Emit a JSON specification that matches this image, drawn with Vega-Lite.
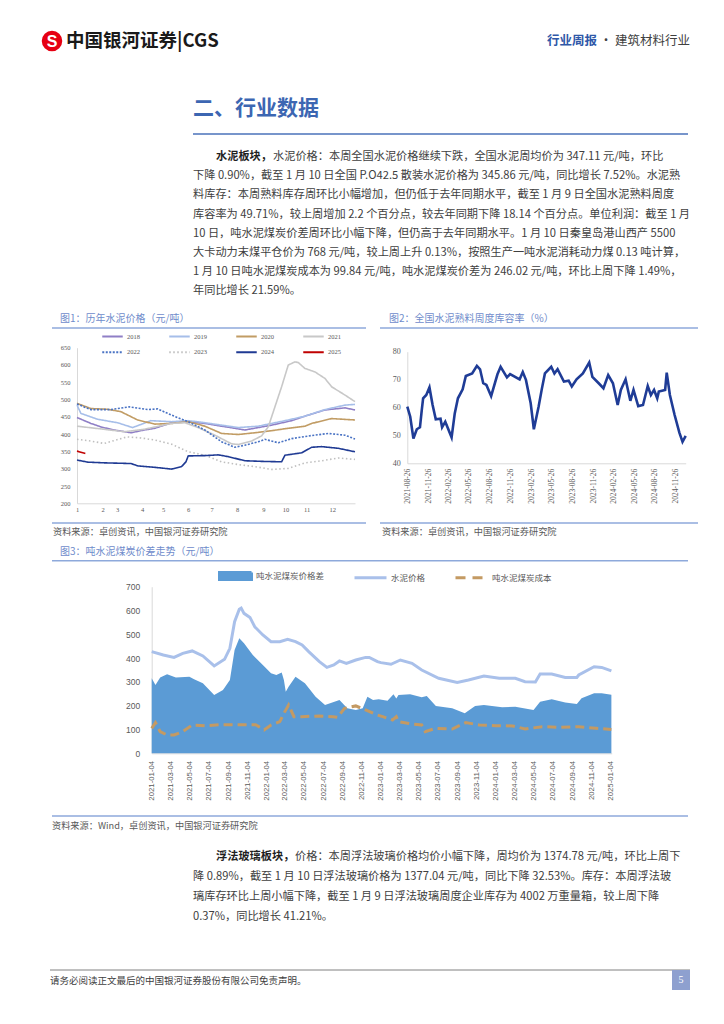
{
  "$schema": "https://vega.github.io/schema/vega-lite/v6.json",
  "width": 724,
  "height": 1024,
  "autosize": {"type": "none"},
  "padding": 0,
  "background": "white",
  "config": {
    "view": {"stroke": null},
    "font": "Noto Sans CJK SC",
    "text": {"font": "Noto Sans CJK SC"}
  },
  "data": {"values": [{"k": 1}]},
  "datasets": {
    "para1": [
      {"line": 0, "b": 1, "t": "水泥板块，"},
      {"line": 0, "b": 2, "t": "水泥价格：本周全国水泥价格继续下跌，全国水泥周均价为 347.11 元/吨，环比"},
      {"line": 1, "b": 0, "t": "下降 0.90%，截至 1 月 10 日全国 P.O42.5 散装水泥价格为 345.86 元/吨，同比增长 7.52%。水泥熟"},
      {"line": 2, "b": 0, "t": "料库存：本周熟料库存周环比小幅增加，但仍低于去年同期水平，截至 1 月 9 日全国水泥熟料周度"},
      {"line": 3, "b": 0, "t": "库容率为 49.71%，较上周增加 2.2 个百分点，较去年同期下降 18.14 个百分点。单位利润：截至 1 月"},
      {"line": 4, "b": 0, "t": "10 日，吨水泥煤炭价差周环比小幅下降，但仍高于去年同期水平。1 月 10 日秦皇岛港山西产 5500"},
      {"line": 5, "b": 0, "t": "大卡动力末煤平仓价为 768 元/吨，较上周上升 0.13%，按照生产一吨水泥消耗动力煤 0.13 吨计算，"},
      {"line": 6, "b": 0, "t": "1 月 10 日吨水泥煤炭成本为 99.84 元/吨，吨水泥煤炭价差为 246.02 元/吨，环比上周下降 1.49%，"},
      {"line": 7, "b": 0, "t": "年同比增长 21.59%。"}
    ],
    "para2": [
      {"line": 0, "b": 1, "t": "浮法玻璃板块，"},
      {"line": 0, "b": 2, "t": "价格：本周浮法玻璃价格均价小幅下降，周均价为 1374.78 元/吨，环比上周下"},
      {"line": 1, "b": 0, "t": "降 0.89%，截至 1 月 10 日浮法玻璃价格为 1377.04 元/吨，同比下降 32.53%。库存：本周浮法玻"},
      {"line": 2, "b": 0, "t": "璃库存环比上周小幅下降，截至 1 月 9 日浮法玻璃周度企业库存为 4002 万重量箱，较上周下降"},
      {"line": 3, "b": 0, "t": "0.37%，同比增长 41.21%。"}
    ],
    "c1": [
      {"yr": "2018", "w": 0, "v": 448}, {"yr": "2018", "w": 2.5, "v": 431}, {"yr": "2018", "w": 4.5, "v": 420}, {"yr": "2018", "w": 6.7, "v": 412}, {"yr": "2018", "w": 9.7, "v": 404}, {"yr": "2018", "w": 12.1, "v": 412}, {"yr": "2018", "w": 14, "v": 417}, {"yr": "2018", "w": 17, "v": 433}, {"yr": "2018", "w": 20, "v": 436}, {"yr": "2018", "w": 23, "v": 431}, {"yr": "2018", "w": 26, "v": 423}, {"yr": "2018", "w": 28, "v": 418}, {"yr": "2018", "w": 30.2, "v": 412}, {"yr": "2018", "w": 32.6, "v": 419}, {"yr": "2018", "w": 35, "v": 426}, {"yr": "2018", "w": 38.6, "v": 439}, {"yr": "2018", "w": 41, "v": 452}, {"yr": "2018", "w": 44.6, "v": 470}, {"yr": "2018", "w": 48.2, "v": 476}, {"yr": "2018", "w": 50, "v": 470},
      {"yr": "2019", "w": 0, "v": 484}, {"yr": "2019", "w": 0.7, "v": 460}, {"yr": "2019", "w": 3.7, "v": 443}, {"yr": "2019", "w": 7.3, "v": 433}, {"yr": "2019", "w": 10, "v": 419}, {"yr": "2019", "w": 13.3, "v": 439}, {"yr": "2019", "w": 17, "v": 436}, {"yr": "2019", "w": 20, "v": 439}, {"yr": "2019", "w": 23, "v": 433}, {"yr": "2019", "w": 26, "v": 426}, {"yr": "2019", "w": 29, "v": 419}, {"yr": "2019", "w": 32.6, "v": 423}, {"yr": "2019", "w": 35, "v": 431}, {"yr": "2019", "w": 38, "v": 441}, {"yr": "2019", "w": 41, "v": 452}, {"yr": "2019", "w": 44.6, "v": 471}, {"yr": "2019", "w": 48.2, "v": 484}, {"yr": "2019", "w": 50, "v": 486},
      {"yr": "2020", "w": 0, "v": 489}, {"yr": "2020", "w": 2.5, "v": 474}, {"yr": "2020", "w": 5.5, "v": 472}, {"yr": "2020", "w": 7.9, "v": 465}, {"yr": "2020", "w": 10.9, "v": 441}, {"yr": "2020", "w": 14, "v": 429}, {"yr": "2020", "w": 17, "v": 431}, {"yr": "2020", "w": 20, "v": 436}, {"yr": "2020", "w": 23, "v": 423}, {"yr": "2020", "w": 26, "v": 402}, {"yr": "2020", "w": 29, "v": 399}, {"yr": "2020", "w": 32, "v": 404}, {"yr": "2020", "w": 35, "v": 410}, {"yr": "2020", "w": 38, "v": 417}, {"yr": "2020", "w": 41, "v": 423}, {"yr": "2020", "w": 42.2, "v": 431}, {"yr": "2020", "w": 45.8, "v": 445}, {"yr": "2020", "w": 50, "v": 441},
      {"yr": "2021", "w": 0, "v": 423}, {"yr": "2021", "w": 4.9, "v": 414}, {"yr": "2021", "w": 8.5, "v": 407}, {"yr": "2021", "w": 12.1, "v": 414}, {"yr": "2021", "w": 17, "v": 431}, {"yr": "2021", "w": 19.4, "v": 433}, {"yr": "2021", "w": 21.8, "v": 419}, {"yr": "2021", "w": 24.8, "v": 397}, {"yr": "2021", "w": 27.8, "v": 372}, {"yr": "2021", "w": 29, "v": 370}, {"yr": "2021", "w": 31.4, "v": 380}, {"yr": "2021", "w": 33.2, "v": 395}, {"yr": "2021", "w": 34.4, "v": 421}, {"yr": "2021", "w": 35.6, "v": 479}, {"yr": "2021", "w": 36.8, "v": 537}, {"yr": "2021", "w": 38, "v": 600}, {"yr": "2021", "w": 39.2, "v": 609}, {"yr": "2021", "w": 39.8, "v": 607}, {"yr": "2021", "w": 41, "v": 590}, {"yr": "2021", "w": 42.8, "v": 580}, {"yr": "2021", "w": 44.6, "v": 561}, {"yr": "2021", "w": 45.8, "v": 537}, {"yr": "2021", "w": 48.2, "v": 513}, {"yr": "2021", "w": 50, "v": 494},
      {"yr": "2022", "w": 0, "v": 487}, {"yr": "2022", "w": 2.5, "v": 471}, {"yr": "2022", "w": 6.1, "v": 471}, {"yr": "2022", "w": 9.4, "v": 479}, {"yr": "2022", "w": 12.7, "v": 471}, {"yr": "2022", "w": 14.5, "v": 473}, {"yr": "2022", "w": 17, "v": 455}, {"yr": "2022", "w": 20, "v": 436}, {"yr": "2022", "w": 23, "v": 412}, {"yr": "2022", "w": 26, "v": 378}, {"yr": "2022", "w": 28.4, "v": 362}, {"yr": "2022", "w": 30.2, "v": 368}, {"yr": "2022", "w": 32.6, "v": 378}, {"yr": "2022", "w": 33.8, "v": 385}, {"yr": "2022", "w": 36.2, "v": 375}, {"yr": "2022", "w": 38.6, "v": 387}, {"yr": "2022", "w": 42.2, "v": 396}, {"yr": "2022", "w": 45.2, "v": 402}, {"yr": "2022", "w": 48.2, "v": 397}, {"yr": "2022", "w": 50, "v": 386},
      {"yr": "2023", "w": 0, "v": 385}, {"yr": "2023", "w": 2.5, "v": 380}, {"yr": "2023", "w": 4.9, "v": 373}, {"yr": "2023", "w": 7, "v": 383}, {"yr": "2023", "w": 9, "v": 392}, {"yr": "2023", "w": 11.5, "v": 389}, {"yr": "2023", "w": 14, "v": 383}, {"yr": "2023", "w": 17, "v": 371}, {"yr": "2023", "w": 20, "v": 349}, {"yr": "2023", "w": 23, "v": 339}, {"yr": "2023", "w": 26, "v": 320}, {"yr": "2023", "w": 29, "v": 312}, {"yr": "2023", "w": 32, "v": 306}, {"yr": "2023", "w": 35, "v": 298}, {"yr": "2023", "w": 38, "v": 301}, {"yr": "2023", "w": 41, "v": 317}, {"yr": "2023", "w": 44, "v": 323}, {"yr": "2023", "w": 47, "v": 331}, {"yr": "2023", "w": 50, "v": 327},
      {"yr": "2024", "w": 0, "v": 325}, {"yr": "2024", "w": 2, "v": 319}, {"yr": "2024", "w": 4.9, "v": 317}, {"yr": "2024", "w": 9.7, "v": 315}, {"yr": "2024", "w": 11, "v": 308}, {"yr": "2024", "w": 14, "v": 304}, {"yr": "2024", "w": 17, "v": 299}, {"yr": "2024", "w": 18.8, "v": 306}, {"yr": "2024", "w": 19.6, "v": 320}, {"yr": "2024", "w": 20, "v": 337}, {"yr": "2024", "w": 23, "v": 338}, {"yr": "2024", "w": 25.4, "v": 340}, {"yr": "2024", "w": 27.2, "v": 335}, {"yr": "2024", "w": 30.2, "v": 323}, {"yr": "2024", "w": 33.8, "v": 321}, {"yr": "2024", "w": 36.8, "v": 320}, {"yr": "2024", "w": 37.4, "v": 339}, {"yr": "2024", "w": 40.4, "v": 346}, {"yr": "2024", "w": 42.2, "v": 362}, {"yr": "2024", "w": 44, "v": 364}, {"yr": "2024", "w": 47, "v": 359}, {"yr": "2024", "w": 50, "v": 349},
      {"yr": "2025", "w": 0, "v": 351}, {"yr": "2025", "w": 1.5, "v": 344}
    ],
    "c2": [
      {"d": "2021/08/26", "v": 60.3}, {"d": "2021/09/08", "v": 56.7}, {"d": "2021/09/22", "v": 48.9}, {"d": "2021/10/07", "v": 52.2}, {"d": "2021/10/21", "v": 52.9}, {"d": "2021/10/29", "v": 59.1}, {"d": "2021/11/04", "v": 63.3}, {"d": "2021/11/18", "v": 64.5}, {"d": "2021/12/02", "v": 67.2}, {"d": "2021/12/16", "v": 60.9}, {"d": "2021/12/30", "v": 55.8}, {"d": "2022/01/20", "v": 56.0}, {"d": "2022/01/27", "v": 52.9}, {"d": "2022/02/10", "v": 54.9}, {"d": "2022/03/10", "v": 49.3}, {"d": "2022/03/24", "v": 57.9}, {"d": "2022/04/07", "v": 63.3}, {"d": "2022/04/28", "v": 66.5}, {"d": "2022/05/12", "v": 71.3}, {"d": "2022/06/09", "v": 72.2}, {"d": "2022/06/30", "v": 74.9}, {"d": "2022/07/14", "v": 73.7}, {"d": "2022/07/28", "v": 68.7}, {"d": "2022/08/11", "v": 68.1}, {"d": "2022/09/01", "v": 64.1}, {"d": "2022/09/29", "v": 71.9}, {"d": "2022/10/13", "v": 74.6}, {"d": "2022/11/10", "v": 70.8}, {"d": "2022/11/24", "v": 72.0}, {"d": "2023/01/05", "v": 70.1}, {"d": "2023/01/19", "v": 72.7}, {"d": "2023/02/02", "v": 69.9}, {"d": "2023/02/23", "v": 61.5}, {"d": "2023/03/09", "v": 52.2}, {"d": "2023/03/30", "v": 60.3}, {"d": "2023/04/13", "v": 66.5}, {"d": "2023/04/27", "v": 72.2}, {"d": "2023/05/25", "v": 74.6}, {"d": "2023/06/08", "v": 72.2}, {"d": "2023/06/22", "v": 73.7}, {"d": "2023/07/20", "v": 69.3}, {"d": "2023/08/10", "v": 69.6}, {"d": "2023/08/24", "v": 67.5}, {"d": "2023/09/14", "v": 70.1}, {"d": "2023/10/12", "v": 72.2}, {"d": "2023/11/09", "v": 76.1}, {"d": "2023/11/23", "v": 71.0}, {"d": "2023/12/21", "v": 68.7}, {"d": "2024/01/11", "v": 66.9}, {"d": "2024/02/01", "v": 71.6}, {"d": "2024/02/22", "v": 68.7}, {"d": "2024/03/14", "v": 60.9}, {"d": "2024/03/28", "v": 66.3}, {"d": "2024/04/18", "v": 70.1}, {"d": "2024/05/09", "v": 62.4}, {"d": "2024/05/23", "v": 66.3}, {"d": "2024/06/13", "v": 60.5}, {"d": "2024/07/04", "v": 60.9}, {"d": "2024/07/25", "v": 67.7}, {"d": "2024/08/08", "v": 64.5}, {"d": "2024/08/22", "v": 66.3}, {"d": "2024/09/05", "v": 63.3}, {"d": "2024/09/12", "v": 65.7}, {"d": "2024/10/10", "v": 66.3}, {"d": "2024/10/17", "v": 72.5}, {"d": "2024/10/31", "v": 64.5}, {"d": "2024/11/21", "v": 57.3}, {"d": "2024/12/12", "v": 51.0}, {"d": "2024/12/26", "v": 47.7}, {"d": "2025/01/09", "v": 49.8}
    ],
    "c3": [
      {"s": "水泥价格", "d": "2021/01/04", "v": 427}, {"s": "水泥价格", "d": "2021/02/10", "v": 413}, {"s": "水泥价格", "d": "2021/03/16", "v": 403}, {"s": "水泥价格", "d": "2021/04/13", "v": 420}, {"s": "水泥价格", "d": "2021/05/13", "v": 430}, {"s": "水泥价格", "d": "2021/06/16", "v": 409}, {"s": "水泥价格", "d": "2021/07/22", "v": 367}, {"s": "水泥价格", "d": "2021/08/24", "v": 395}, {"s": "水泥价格", "d": "2021/09/10", "v": 441}, {"s": "水泥价格", "d": "2021/09/25", "v": 553}, {"s": "水泥价格", "d": "2021/10/10", "v": 605}, {"s": "水泥价格", "d": "2021/10/16", "v": 610}, {"s": "水泥价格", "d": "2021/10/25", "v": 588}, {"s": "水泥价格", "d": "2021/11/13", "v": 571}, {"s": "水泥价格", "d": "2021/11/28", "v": 532}, {"s": "水泥价格", "d": "2021/12/24", "v": 497}, {"s": "水泥价格", "d": "2022/01/19", "v": 469}, {"s": "水泥价格", "d": "2022/02/16", "v": 469}, {"s": "水泥价格", "d": "2022/03/13", "v": 479}, {"s": "水泥价格", "d": "2022/04/07", "v": 469}, {"s": "水泥价格", "d": "2022/04/28", "v": 455}, {"s": "水泥价格", "d": "2022/05/19", "v": 427}, {"s": "水泥价格", "d": "2022/06/22", "v": 385}, {"s": "水泥价格", "d": "2022/07/16", "v": 361}, {"s": "水泥价格", "d": "2022/08/07", "v": 371}, {"s": "水泥价格", "d": "2022/08/25", "v": 388}, {"s": "水泥价格", "d": "2022/09/16", "v": 378}, {"s": "水泥价格", "d": "2022/10/16", "v": 392}, {"s": "水泥价格", "d": "2022/11/16", "v": 403}, {"s": "水泥价格", "d": "2022/11/28", "v": 403}, {"s": "水泥价格", "d": "2022/12/24", "v": 385}, {"s": "水泥价格", "d": "2023/01/04", "v": 381}, {"s": "水泥价格", "d": "2023/02/05", "v": 374}, {"s": "水泥价格", "d": "2023/03/07", "v": 392}, {"s": "水泥价格", "d": "2023/04/13", "v": 378}, {"s": "水泥价格", "d": "2023/05/14", "v": 350}, {"s": "水泥价格", "d": "2023/07/07", "v": 315}, {"s": "水泥价格", "d": "2023/09/04", "v": 298}, {"s": "水泥价格", "d": "2023/10/10", "v": 308}, {"s": "水泥价格", "d": "2023/11/28", "v": 325}, {"s": "水泥价格", "d": "2024/01/16", "v": 315}, {"s": "水泥价格", "d": "2024/03/07", "v": 315}, {"s": "水泥价格", "d": "2024/04/07", "v": 301}, {"s": "水泥价格", "d": "2024/05/10", "v": 300}, {"s": "水泥价格", "d": "2024/05/25", "v": 333}, {"s": "水泥价格", "d": "2024/07/01", "v": 333}, {"s": "水泥价格", "d": "2024/08/13", "v": 319}, {"s": "水泥价格", "d": "2024/09/19", "v": 319}, {"s": "水泥价格", "d": "2024/09/25", "v": 329}, {"s": "水泥价格", "d": "2024/11/13", "v": 364}, {"s": "水泥价格", "d": "2024/12/07", "v": 361}, {"s": "水泥价格", "d": "2025/01/07", "v": 346},
      {"s": "吨水泥煤炭价格差", "d": "2021/01/04", "v": 315}, {"s": "吨水泥煤炭价格差", "d": "2021/01/16", "v": 287}, {"s": "吨水泥煤炭价格差", "d": "2021/01/31", "v": 319}, {"s": "吨水泥煤炭价格差", "d": "2021/02/22", "v": 332}, {"s": "吨水泥煤炭价格差", "d": "2021/03/22", "v": 319}, {"s": "吨水泥煤炭价格差", "d": "2021/05/04", "v": 322}, {"s": "吨水泥煤炭价格差", "d": "2021/05/19", "v": 311}, {"s": "吨水泥煤炭价格差", "d": "2021/06/16", "v": 294}, {"s": "吨水泥煤炭价格差", "d": "2021/07/22", "v": 245}, {"s": "吨水泥煤炭价格差", "d": "2021/08/19", "v": 266}, {"s": "吨水泥煤炭价格差", "d": "2021/09/10", "v": 308}, {"s": "吨水泥煤炭价格差", "d": "2021/09/25", "v": 434}, {"s": "吨水泥煤炭价格差", "d": "2021/10/10", "v": 483}, {"s": "吨水泥煤炭价格差", "d": "2021/10/25", "v": 462}, {"s": "吨水泥煤炭价格差", "d": "2021/11/22", "v": 413}, {"s": "吨水泥煤炭价格差", "d": "2021/12/24", "v": 371}, {"s": "吨水泥煤炭价格差", "d": "2022/01/19", "v": 336}, {"s": "吨水泥煤炭价格差", "d": "2022/02/05", "v": 329}, {"s": "吨水泥煤炭价格差", "d": "2022/02/22", "v": 340}, {"s": "吨水泥煤炭价格差", "d": "2022/03/01", "v": 308}, {"s": "吨水泥煤炭价格差", "d": "2022/03/07", "v": 259}, {"s": "吨水泥煤炭价格差", "d": "2022/03/16", "v": 280}, {"s": "吨水泥煤炭价格差", "d": "2022/04/07", "v": 322}, {"s": "吨水泥煤炭价格差", "d": "2022/05/07", "v": 294}, {"s": "吨水泥煤炭价格差", "d": "2022/06/10", "v": 238}, {"s": "吨水泥煤炭价格差", "d": "2022/07/10", "v": 203}, {"s": "吨水泥煤炭价格差", "d": "2022/08/25", "v": 224}, {"s": "吨水泥煤炭价格差", "d": "2022/09/19", "v": 189}, {"s": "吨水泥煤炭价格差", "d": "2022/10/16", "v": 182}, {"s": "吨水泥煤炭价格差", "d": "2022/11/07", "v": 189}, {"s": "吨水泥煤炭价格差", "d": "2022/11/22", "v": 238}, {"s": "吨水泥煤炭价格差", "d": "2022/12/10", "v": 224}, {"s": "吨水泥煤炭价格差", "d": "2022/12/28", "v": 227}, {"s": "吨水泥煤炭价格差", "d": "2023/01/25", "v": 221}, {"s": "吨水泥煤炭价格差", "d": "2023/02/13", "v": 248}, {"s": "吨水泥煤炭价格差", "d": "2023/02/22", "v": 230}, {"s": "吨水泥煤炭价格差", "d": "2023/03/01", "v": 245}, {"s": "吨水泥煤炭价格差", "d": "2023/04/07", "v": 248}, {"s": "吨水泥煤炭价格差", "d": "2023/05/14", "v": 235}, {"s": "吨水泥煤炭价格差", "d": "2023/05/30", "v": 241}, {"s": "吨水泥煤炭价格差", "d": "2023/06/28", "v": 199}, {"s": "吨水泥煤炭价格差", "d": "2023/08/19", "v": 189}, {"s": "吨水泥煤炭价格差", "d": "2023/09/28", "v": 168}, {"s": "吨水泥煤炭价格差", "d": "2023/10/31", "v": 199}, {"s": "吨水泥煤炭价格差", "d": "2023/11/28", "v": 203}, {"s": "吨水泥煤炭价格差", "d": "2024/01/25", "v": 193}, {"s": "吨水泥煤炭价格差", "d": "2024/03/07", "v": 196}, {"s": "吨水泥煤炭价格差", "d": "2024/05/04", "v": 182}, {"s": "吨水泥煤炭价格差", "d": "2024/05/25", "v": 217}, {"s": "吨水泥煤炭价格差", "d": "2024/07/01", "v": 227}, {"s": "吨水泥煤炭价格差", "d": "2024/08/13", "v": 213}, {"s": "吨水泥煤炭价格差", "d": "2024/09/19", "v": 207}, {"s": "吨水泥煤炭价格差", "d": "2024/10/04", "v": 231}, {"s": "吨水泥煤炭价格差", "d": "2024/11/13", "v": 252}, {"s": "吨水泥煤炭价格差", "d": "2024/12/07", "v": 252}, {"s": "吨水泥煤炭价格差", "d": "2025/01/07", "v": 246},
      {"s": "吨水泥煤炭成本", "d": "2021/01/04", "v": 105}, {"s": "吨水泥煤炭成本", "d": "2021/01/16", "v": 129}, {"s": "吨水泥煤炭成本", "d": "2021/01/31", "v": 91}, {"s": "吨水泥煤炭成本", "d": "2021/02/22", "v": 77}, {"s": "吨水泥煤炭成本", "d": "2021/03/16", "v": 77}, {"s": "吨水泥煤炭成本", "d": "2021/04/13", "v": 91}, {"s": "吨水泥煤炭成本", "d": "2021/05/13", "v": 119}, {"s": "吨水泥煤炭成本", "d": "2021/06/25", "v": 116}, {"s": "吨水泥煤炭成本", "d": "2021/08/07", "v": 120}, {"s": "吨水泥煤炭成本", "d": "2021/10/10", "v": 120}, {"s": "吨水泥煤炭成本", "d": "2021/12/01", "v": 120}, {"s": "吨水泥煤炭成本", "d": "2021/12/28", "v": 98}, {"s": "吨水泥煤炭成本", "d": "2022/01/19", "v": 119}, {"s": "吨水泥煤炭成本", "d": "2022/02/16", "v": 133}, {"s": "吨水泥煤炭成本", "d": "2022/03/01", "v": 168}, {"s": "吨水泥煤炭成本", "d": "2022/03/16", "v": 203}, {"s": "吨水泥煤炭成本", "d": "2022/04/02", "v": 154}, {"s": "吨水泥煤炭成本", "d": "2022/04/28", "v": 154}, {"s": "吨水泥煤炭成本", "d": "2022/06/22", "v": 157}, {"s": "吨水泥煤炭成本", "d": "2022/08/04", "v": 154}, {"s": "吨水泥煤炭成本", "d": "2022/08/19", "v": 151}, {"s": "吨水泥煤炭成本", "d": "2022/09/10", "v": 189}, {"s": "吨水泥煤炭成本", "d": "2022/10/16", "v": 199}, {"s": "吨水泥煤炭成本", "d": "2022/11/16", "v": 182}, {"s": "吨水泥煤炭成本", "d": "2022/12/24", "v": 161}, {"s": "吨水泥煤炭成本", "d": "2023/01/10", "v": 154}, {"s": "吨水泥煤炭成本", "d": "2023/02/10", "v": 140}, {"s": "吨水泥煤炭成本", "d": "2023/02/22", "v": 154}, {"s": "吨水泥煤炭成本", "d": "2023/03/01", "v": 133}, {"s": "吨水泥煤炭成本", "d": "2023/04/13", "v": 123}, {"s": "吨水泥煤炭成本", "d": "2023/05/14", "v": 119}, {"s": "吨水泥煤炭成本", "d": "2023/05/25", "v": 91}, {"s": "吨水泥煤炭成本", "d": "2023/06/28", "v": 105}, {"s": "吨水泥煤炭成本", "d": "2023/08/19", "v": 102}, {"s": "吨水泥煤炭成本", "d": "2023/10/01", "v": 129}, {"s": "吨水泥煤炭成本", "d": "2023/11/13", "v": 119}, {"s": "吨水泥煤炭成本", "d": "2024/01/04", "v": 116}, {"s": "吨水泥煤炭成本", "d": "2024/02/28", "v": 115}, {"s": "吨水泥煤炭成本", "d": "2024/04/07", "v": 102}, {"s": "吨水泥煤炭成本", "d": "2024/06/01", "v": 112}, {"s": "吨水泥煤炭成本", "d": "2024/07/22", "v": 109}, {"s": "吨水泥煤炭成本", "d": "2024/09/25", "v": 112}, {"s": "吨水泥煤炭成本", "d": "2024/11/19", "v": 105}, {"s": "吨水泥煤炭成本", "d": "2025/01/07", "v": 100}
    ]
  },
  "resolve": {
    "scale": {"x": "independent", "y": "independent", "color": "independent", "strokeDash": "independent"},
    "axis": {"x": "independent", "y": "independent"},
    "legend": {"color": "independent", "strokeDash": "independent"}
  },
  "layer": [
    {"mark": {"type": "point", "shape": "circle", "filled": true, "color": "#E60012", "size": 420, "opacity": 1}, "encoding": {"x": {"value": 52}, "y": {"value": 41}}},
    {"mark": {"type": "text", "text": "S", "fontWeight": "bold", "fontSize": 16, "color": "#FFFFFF", "font": "Liberation Sans"}, "encoding": {"x": {"value": 52}, "y": {"value": 42}}},
    {"mark": {"type": "text", "text": "中国银河证券|CGS", "align": "left", "fontSize": 18.5, "fontWeight": "bold", "color": "#1A1A1A"}, "encoding": {"x": {"value": 66}, "y": {"value": 41}}},
    {"mark": {"type": "text", "text": "行业周报", "align": "right", "fontSize": 12.5, "fontWeight": "bold", "color": "#2F58A8"}, "encoding": {"x": {"value": 597}, "y": {"value": 41}}},
    {"mark": {"type": "text", "text": "·", "align": "center", "fontSize": 12.5, "color": "#404040"}, "encoding": {"x": {"value": 606}, "y": {"value": 41}}},
    {"mark": {"type": "text", "text": "建筑材料行业", "align": "right", "fontSize": 12.5, "color": "#404040"}, "encoding": {"x": {"value": 690}, "y": {"value": 41}}},

    {"mark": {"type": "text", "text": "二、行业数据", "align": "left", "fontSize": 21, "fontWeight": "bold", "color": "#3C66B2"}, "encoding": {"x": {"value": 193}, "y": {"value": 109}}},
    {"mark": {"type": "rule", "color": "#4A72BA", "strokeWidth": 1.5}, "encoding": {"x": {"value": 193}, "x2": {"value": 688}, "y": {"value": 134}}},

    {"data": {"name": "para1"}, "transform": [{"filter": "datum.b == 0"}], "mark": {"type": "text", "align": "left", "fontSize": 11.2, "color": "#404040"},
     "encoding": {"x": {"value": 193}, "y": {"field": "line", "type": "quantitative", "scale": {"domain": [0, 7], "range": [157, 291.4]}, "axis": null}, "text": {"field": "t"}}},
    {"data": {"name": "para1"}, "transform": [{"filter": "datum.b == 1"}], "mark": {"type": "text", "align": "left", "fontSize": 11.2, "fontWeight": "bold", "color": "#1F1F1F"},
     "encoding": {"x": {"value": 216}, "y": {"field": "line", "type": "quantitative", "scale": {"domain": [0, 7], "range": [157, 291.4]}, "axis": null}, "text": {"field": "t"}}},
    {"data": {"name": "para1"}, "transform": [{"filter": "datum.b == 2"}], "mark": {"type": "text", "align": "left", "fontSize": 11.2, "color": "#404040"},
     "encoding": {"x": {"value": 273}, "y": {"field": "line", "type": "quantitative", "scale": {"domain": [0, 7], "range": [157, 291.4]}, "axis": null}, "text": {"field": "t"}}},

    {"mark": {"type": "text", "text": "图1：历年水泥价格（元/吨）", "align": "left", "fontSize": 10, "color": "#6F8CCB"}, "encoding": {"x": {"value": 60}, "y": {"value": 319}}},
    {"mark": {"type": "rule", "color": "#8EA9DB", "strokeWidth": 1.5}, "encoding": {"x": {"value": 52}, "x2": {"value": 366}, "y": {"value": 328}}},
    {"mark": {"type": "rule", "color": "#8EA9DB", "strokeWidth": 1.5}, "encoding": {"x": {"value": 52}, "x2": {"value": 366}, "y": {"value": 523}}},
    {"mark": {"type": "text", "text": "资料来源：卓创资讯，中国银河证券研究院", "align": "left", "fontSize": 9.2, "color": "#595959"}, "encoding": {"x": {"value": 53}, "y": {"value": 532}}},

    {"mark": {"type": "text", "text": "图2：全国水泥熟料周度库容率（%）", "align": "left", "fontSize": 10, "color": "#6F8CCB"}, "encoding": {"x": {"value": 389}, "y": {"value": 319}}},
    {"mark": {"type": "rule", "color": "#8EA9DB", "strokeWidth": 1.5}, "encoding": {"x": {"value": 380}, "x2": {"value": 698}, "y": {"value": 328}}},
    {"mark": {"type": "rule", "color": "#8EA9DB", "strokeWidth": 1.5}, "encoding": {"x": {"value": 380}, "x2": {"value": 698}, "y": {"value": 523}}},
    {"mark": {"type": "text", "text": "资料来源：卓创资讯，中国银河证券研究院", "align": "left", "fontSize": 9.2, "color": "#595959"}, "encoding": {"x": {"value": 382}, "y": {"value": 532}}},

    {"mark": {"type": "text", "text": "图3：吨水泥煤炭价差走势（元/吨）", "align": "left", "fontSize": 10, "color": "#6F8CCB"}, "encoding": {"x": {"value": 60}, "y": {"value": 551.5}}},
    {"mark": {"type": "rule", "color": "#8EA9DB", "strokeWidth": 1.5}, "encoding": {"x": {"value": 52}, "x2": {"value": 688}, "y": {"value": 560.7}}},
    {"mark": {"type": "rule", "color": "#8EA9DB", "strokeWidth": 1.5}, "encoding": {"x": {"value": 52}, "x2": {"value": 688}, "y": {"value": 816}}},
    {"mark": {"type": "text", "text": "资料来源：Wind，卓创资讯，中国银河证券研究院", "align": "left", "fontSize": 9.2, "color": "#595959"}, "encoding": {"x": {"value": 52}, "y": {"value": 826}}},

    {"data": {"name": "para2"}, "transform": [{"filter": "datum.b == 0"}], "mark": {"type": "text", "align": "left", "fontSize": 11.2, "color": "#404040"},
     "encoding": {"x": {"value": 193}, "y": {"field": "line", "type": "quantitative", "scale": {"domain": [0, 3], "range": [857, 917]}, "axis": null}, "text": {"field": "t"}}},
    {"data": {"name": "para2"}, "transform": [{"filter": "datum.b == 1"}], "mark": {"type": "text", "align": "left", "fontSize": 11.2, "fontWeight": "bold", "color": "#1F1F1F"},
     "encoding": {"x": {"value": 216}, "y": {"field": "line", "type": "quantitative", "scale": {"domain": [0, 3], "range": [857, 917]}, "axis": null}, "text": {"field": "t"}}},
    {"data": {"name": "para2"}, "transform": [{"filter": "datum.b == 2"}], "mark": {"type": "text", "align": "left", "fontSize": 11.2, "color": "#404040"},
     "encoding": {"x": {"value": 295}, "y": {"field": "line", "type": "quantitative", "scale": {"domain": [0, 3], "range": [857, 917]}, "axis": null}, "text": {"field": "t"}}},

    {"mark": {"type": "rule", "color": "#808080", "strokeWidth": 1}, "encoding": {"x": {"value": 50}, "x2": {"value": 690}, "y": {"value": 970}}},
    {"mark": {"type": "text", "text": "请务必阅读正文最后的中国银河证券股份有限公司免责声明。", "align": "left", "fontSize": 9.5, "color": "#404040"}, "encoding": {"x": {"value": 50}, "y": {"value": 981}}},
    {"mark": {"type": "rect", "color": "#8EA0CF"}, "encoding": {"x": {"value": 672}, "x2": {"value": 690}, "y": {"value": 970}, "y2": {"value": 990}}},
    {"mark": {"type": "text", "text": "5", "fontSize": 10, "color": "#FFFFFF", "font": "Liberation Serif"}, "encoding": {"x": {"value": 681}, "y": {"value": 980}}},

    {"data": {"name": "c1"},
     "mark": {"type": "line", "strokeWidth": 1.6},
     "encoding": {
       "x": {"field": "w", "type": "quantitative", "scale": {"domain": [0, 50], "range": [77, 355], "nice": false, "zero": false},
             "axis": {"orient": "bottom", "offset": -520.7, "title": null, "values": [0, 4.6, 7.2, 11.7, 15.5, 20, 24.2, 28.8, 33.5, 37.5, 41.3, 45.9], "labelExpr": "indexof([0, 4.6, 7.2, 11.7, 15.5, 20, 24.2, 28.8, 33.5, 37.5, 41.3, 45.9], datum.value) + 1", "grid": false, "ticks": false, "domainColor": "#D9D9D9", "labelFontSize": 6.5, "labelColor": "#595959", "labelFont": "Liberation Serif", "labelPadding": 3, "labelOverlap": false, "labelFlush": false}},
       "y": {"field": "v", "type": "quantitative", "scale": {"domain": [200, 650], "range": [503.3, 347.7], "nice": false, "zero": false},
             "axis": {"orient": "left", "offset": -77, "title": null, "values": [200, 250, 300, 350, 400, 450, 500, 550, 600, 650], "grid": false, "ticks": false, "domainColor": "#D9D9D9", "labelFontSize": 6.5, "labelColor": "#595959", "labelFont": "Liberation Serif", "labelPadding": 7, "labelFlush": false}},
       "color": {"field": "yr", "type": "nominal",
                 "scale": {"domain": ["2018", "2019", "2020", "2021", "2022", "2023", "2024", "2025"], "range": ["#8F7FC6", "#A6BEE9", "#C19C64", "#C8C8C8", "#4A73C4", "#BFBFBF", "#1F3A93", "#C00000"]},
                 "legend": {"title": null, "orient": "none", "legendX": 101, "legendY": 324.8, "direction": "horizontal", "columns": 4, "symbolType": "stroke", "symbolSize": 420, "symbolStrokeWidth": 2, "labelFontSize": 6.5, "labelFont": "Liberation Serif", "labelColor": "#595959", "columnPadding": 25, "rowPadding": -8.5, "labelOffset": 3}},
       "strokeDash": {"field": "yr", "type": "nominal",
                 "scale": {"domain": ["2018", "2019", "2020", "2021", "2022", "2023", "2024", "2025"], "range": [[1, 0], [1, 0], [1, 0], [1, 0], [2, 1.5], [1.5, 2.5], [1, 0], [1, 0]]},
                 "legend": {"title": null, "orient": "none", "legendX": 101, "legendY": 324.8, "direction": "horizontal", "columns": 4, "symbolType": "stroke", "symbolSize": 420, "symbolStrokeWidth": 2, "labelFontSize": 6.5, "labelFont": "Liberation Serif", "labelColor": "#595959", "columnPadding": 25, "rowPadding": -8.5, "labelOffset": 3}}
     }},

    {"data": {"name": "c2"},
     "mark": {"type": "line", "color": "#1F3C96", "strokeWidth": 2.6},
     "encoding": {
       "x": {"field": "d", "type": "temporal", "scale": {"domain": [{"year": 2021, "month": 8, "date": 26}, {"year": 2025, "month": 1, "date": 9}], "range": [407.3, 685.7], "nice": false},
             "axis": {"orient": "bottom", "offset": -560.7, "title": null, "format": "%Y-%m-%d", "labelAngle": -90, "grid": false, "ticks": false, "domainColor": "#D9D9D9", "labelFontSize": 7.5, "labelColor": "#595959", "labelFont": "Liberation Serif", "labelPadding": 5, "labelOverlap": false, "labelFlush": false,
                      "values": [{"year": 2021, "month": 8, "date": 26}, {"year": 2021, "month": 11, "date": 26}, {"year": 2022, "month": 2, "date": 26}, {"year": 2022, "month": 5, "date": 26}, {"year": 2022, "month": 8, "date": 26}, {"year": 2022, "month": 11, "date": 26}, {"year": 2023, "month": 2, "date": 26}, {"year": 2023, "month": 5, "date": 26}, {"year": 2023, "month": 8, "date": 26}, {"year": 2023, "month": 11, "date": 26}, {"year": 2024, "month": 2, "date": 26}, {"year": 2024, "month": 5, "date": 26}, {"year": 2024, "month": 8, "date": 26}, {"year": 2024, "month": 11, "date": 26}]}},
       "y": {"field": "v", "type": "quantitative", "scale": {"domain": [40, 80], "range": [463.3, 351.7], "nice": false, "zero": false},
             "axis": {"orient": "left", "offset": -407.3, "title": null, "values": [40, 50, 60, 70, 80], "grid": false, "ticks": false, "domainColor": "#D9D9D9", "labelFontSize": 8, "labelColor": "#595959", "labelFont": "Liberation Serif", "labelPadding": 7, "labelFlush": false}}
     }},

    {"data": {"name": "c3"},
     "encoding": {
       "x": {"field": "d", "type": "temporal", "scale": {"domain": [{"year": 2021, "month": 1, "date": 4}, {"year": 2025, "month": 1, "date": 8}], "range": [151.7, 611.7], "nice": false},
             "axis": {"orient": "bottom", "offset": -270.7, "title": null, "format": "%Y-%m-%d", "labelAngle": -90, "grid": false, "ticks": false, "domainColor": "#D9D9D9", "labelFontSize": 7.8, "labelColor": "#595959", "labelFont": "Liberation Sans", "labelPadding": 7, "labelOverlap": false, "labelFlush": false,
                      "values": [{"year": 2021, "month": 1, "date": 4}, {"year": 2021, "month": 3, "date": 4}, {"year": 2021, "month": 5, "date": 4}, {"year": 2021, "month": 7, "date": 4}, {"year": 2021, "month": 9, "date": 4}, {"year": 2021, "month": 11, "date": 4}, {"year": 2022, "month": 1, "date": 4}, {"year": 2022, "month": 3, "date": 4}, {"year": 2022, "month": 5, "date": 4}, {"year": 2022, "month": 7, "date": 4}, {"year": 2022, "month": 9, "date": 4}, {"year": 2022, "month": 11, "date": 4}, {"year": 2023, "month": 1, "date": 4}, {"year": 2023, "month": 3, "date": 4}, {"year": 2023, "month": 5, "date": 4}, {"year": 2023, "month": 7, "date": 4}, {"year": 2023, "month": 9, "date": 4}, {"year": 2023, "month": 11, "date": 4}, {"year": 2024, "month": 1, "date": 4}, {"year": 2024, "month": 3, "date": 4}, {"year": 2024, "month": 5, "date": 4}, {"year": 2024, "month": 7, "date": 4}, {"year": 2024, "month": 9, "date": 4}, {"year": 2024, "month": 11, "date": 4}, {"year": 2025, "month": 1, "date": 4}]}},
       "y": {"field": "v", "type": "quantitative", "scale": {"domain": [0, 700], "range": [753.3, 586.7], "nice": false},
             "axis": {"orient": "left", "offset": -151.7, "title": null, "values": [0, 100, 200, 300, 400, 500, 600, 700], "grid": false, "ticks": false, "domainColor": "#D9D9D9", "labelFontSize": 8.5, "labelColor": "#595959", "labelFont": "Liberation Sans", "labelPadding": 12, "labelFlush": false}},
       "color": {"field": "s", "type": "nominal",
                 "scale": {"domain": ["吨水泥煤炭价格差", "水泥价格", "吨水泥煤炭成本"], "range": ["#5B9BD5", "#A9C0EA", "#C49A63"]},
                 "legend": {"title": null, "orient": "none", "legendX": 218, "legendY": 558, "direction": "horizontal", "symbolSize": 1024, "symbolStrokeWidth": 3, "labelFontSize": 8.5, "labelColor": "#595959", "columnPadding": 23, "labelOffset": 3,
                            "encode": {"symbols": {"update": {
                              "shape": {"signal": "datum.value === '吨水泥煤炭价格差' ? 'M-1,-0.22H1V0.22H-1Z' : 'stroke'"},
                              "fill": {"signal": "datum.value === '吨水泥煤炭价格差' ? '#5B9BD5' : 'transparent'"},
                              "stroke": {"signal": "datum.value === '吨水泥煤炭价格差' ? 'transparent' : (datum.value === '水泥价格' ? '#A9C0EA' : '#C49A63')"},
                              "strokeDash": {"signal": "datum.value === '吨水泥煤炭成本' ? [10, 7] : [1, 0]"},
                              "strokeWidth": {"value": 3},
                              "opacity": {"value": 1}
                            }}}}}
     },
     "layer": [
       {"transform": [{"filter": "datum.s === '吨水泥煤炭价格差'"}], "mark": {"type": "area", "opacity": 1}},
       {"transform": [{"filter": "datum.s === '水泥价格'"}], "mark": {"type": "line", "strokeWidth": 3}},
       {"transform": [{"filter": "datum.s === '吨水泥煤炭成本'"}], "mark": {"type": "line", "strokeWidth": 3, "strokeDash": [9, 5]}}
     ]}
  ]
}
